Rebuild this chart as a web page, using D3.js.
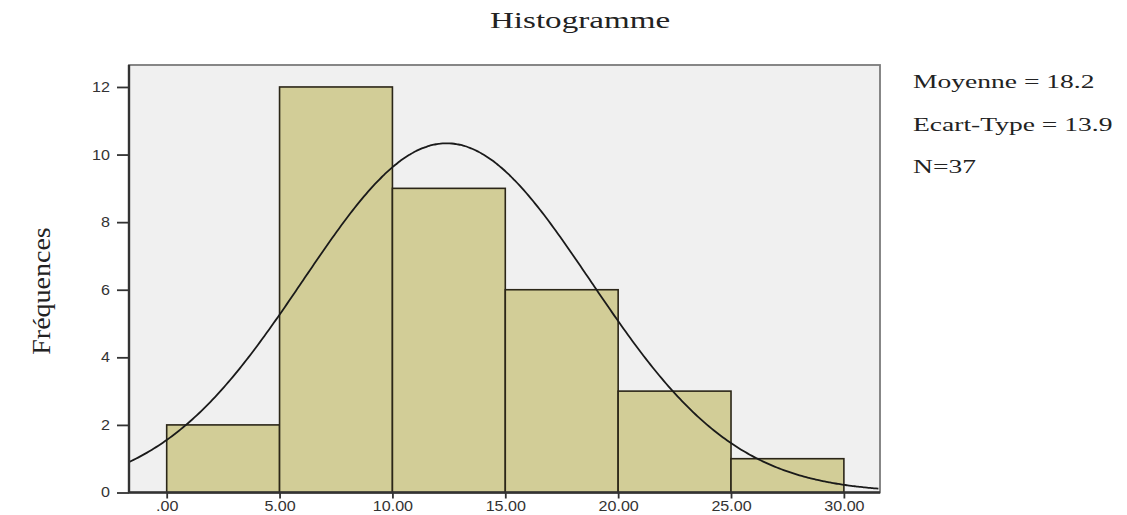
<!DOCTYPE html>
<html><head><meta charset="utf-8">
<script src="https://cdn.jsdelivr.net/npm/d3@7"></script>
<style>body{margin:0;background:#fff;} svg{display:block;}</style>
</head><body>
<svg id="c" width="1127" height="515"></svg>
<script>
const binStarts = [0, 5, 10, 15, 20, 25];
const binWidth = 5;
const counts = [2, 12, 9, 6, 3, 1];
const xTicks = [0, 5, 10, 15, 20, 25, 30];
const yTicks = [0, 2, 4, 6, 8, 10, 12];
const statLines = ["Moyenne = 18.2", "Ecart-Type = 13.9", "N=37"];
const curveMean = 12.4, curveSd = 6.37;

const svg = d3.select("#c");
const L = 129, R = 880, T = 65, B = 492.5;
const x = d3.scaleLinear().domain([-1.67, 31.6]).range([L, R]);
const y = d3.scaleLinear().domain([0, 12.65]).range([B, T]);
const serif = "Liberation Serif, Times New Roman, serif";
const sans = "Liberation Sans, Arial, sans-serif";

svg.append("rect").attr("x", L).attr("y", T).attr("width", R - L).attr("height", B - T)
  .attr("fill", "#f0f0f0").attr("stroke", "#7a7a7a").attr("stroke-width", 1.8);

svg.append("g").selectAll("rect").data(binStarts).join("rect")
  .attr("x", (d) => x(d)).attr("width", (d) => x(d + binWidth) - x(d))
  .attr("y", (d, i) => y(counts[i])).attr("height", (d, i) => y(0) - y(counts[i]))
  .attr("fill", "#d2cd97").attr("stroke", "#2b2618").attr("stroke-width", 1.6);

const N = d3.sum(counts);
const amp = N * binWidth / (curveSd * Math.sqrt(2 * Math.PI));
const pts = d3.range(-1.67, 31.6001, 0.1).map(v => [v, amp * Math.exp(-0.5 * ((v - curveMean) / curveSd) ** 2)]);
svg.append("path").datum(pts).attr("fill", "none").attr("stroke", "#1a1a1a").attr("stroke-width", 1.8)
  .attr("d", d3.line().x(d => x(d[0])).y(d => y(d[1])).curve(d3.curveBasis));

const fmt = v => v === 0 ? ".00" : d3.format(".2f")(v);
const gx = svg.append("g").attr("transform", `translate(0,${B})`)
  .call(d3.axisBottom(x).tickValues(xTicks).tickFormat(fmt).tickSize(6).tickPadding(3));
const gy = svg.append("g").attr("transform", `translate(${L},0)`)
  .call(d3.axisLeft(y).tickValues(yTicks).tickSize(12).tickPadding(4));
[gx, gy].forEach(g => {
  g.select(".domain").attr("stroke", "#333").attr("stroke-width", 2.4);
  g.selectAll(".tick line").attr("stroke", "#333").attr("stroke-width", 1.8);
  g.selectAll(".tick text").attr("fill", "#333").style("font-family", sans).style("font-size", "14px");
});
const sx = 1.15;
gx.selectAll(".tick text").attr("transform", `scale(${sx},1)`);
gy.selectAll(".tick text").attr("x", -19 / sx).attr("transform", `scale(${sx},1)`);
gx.select(".domain").attr("d", `M${L},0H${R}`);
gy.select(".domain").attr("d", `M0,${B}V${T}`);

svg.append("text").attr("transform", "translate(580,28) scale(1.44,1)").attr("text-anchor", "middle")
  .style("font-family", serif).style("font-size", "23px").attr("fill", "#222")
  .text("Histogramme");

svg.append("text").attr("transform", "translate(50,291) rotate(-90) scale(1.12,1)").attr("text-anchor", "middle")
  .style("font-family", serif).style("font-size", "25px").attr("fill", "#222")
  .text("Fréquences");

svg.append("g").selectAll("text").data(statLines).join("text")
  .attr("transform", (d, i) => `translate(913,${88 + i * 42.5}) scale(1.45,1)`)
  .style("font-family", serif).style("font-size", "19px").attr("fill", "#222")
  .text(d => d);
</script>
</body></html>
